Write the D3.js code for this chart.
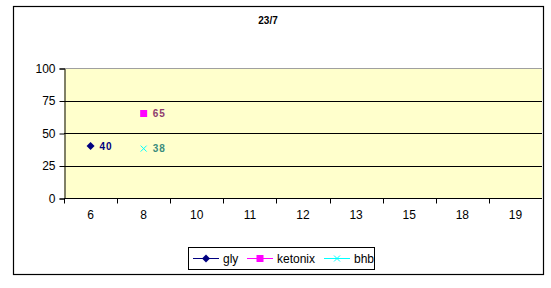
<!DOCTYPE html>
<html>
<head>
<meta charset="utf-8">
<script src="https://cdn.jsdelivr.net/npm/d3@7"></script>
<style>
  body { margin: 0; background: #fff; }
  svg { display: block; font-family: "Liberation Sans", Arial, sans-serif; }
</style>
</head>
<body>
<svg id="chart"></svg>
<script>
// chart data
const title = "23/7"
const categories = ["6", "8", "10", "11", "12", "13", "15", "18", "19"]
const gly = [40, null, null, null, null, null, null, null, null]
const ketonix = [null, 65, null, null, null, null, null, null, null]
const bhb = [null, 38, null, null, null, null, null, null, null]
const yTicks = [0, 25, 50, 75, 100]

// marker shapes, drawn around 0,0
var markers = {
    diamond: "M0,-4L4,0L0,4L-4,0Z",
    square: "M-3.5,-3.5H3.5V3.5H-3.5Z",
    cross: "M-3,-3L3,3M-3,3L3,-3"
}

const series = [
    {name: "gly", values: gly, color: "#000080", label: "#000080", marker: "diamond"},
    {name: "ketonix", values: ketonix, color: "#ff00ff", label: "#8e3a6e", marker: "square"},
    {name: "bhb", values: bhb, color: "#00ffff", label: "#3a8c7c", marker: "cross"}
]

var W = 551, H = 288
var plot = {left: 64, right: 542, top: 68, bottom: 198}

var svg = d3.select("#chart")
    .attr("width", W)
    .attr("height", H)

// outer chart border
svg.append("rect")
    .attr("x", 13.5).attr("y", 6.5)
    .attr("width", 530).attr("height", 268)
    .attr("fill", "#fff")
    .attr("stroke", "#000")
    .attr("stroke-width", 1.2)

svg.append("text")
    .attr("x", 268).attr("y", 24)
    .attr("text-anchor", "middle")
    .attr("font-size", 10)
    .attr("font-weight", "bold")
    .text(title)

var x = d3.scaleBand()
    .domain(categories)
    .range([plot.left, plot.right])

var y = d3.scaleLinear()
    .domain([0, 100])
    .range([plot.bottom, plot.top])

// plot area
svg.append("rect")
    .attr("x", plot.left).attr("y", plot.top)
    .attr("width", plot.right - plot.left)
    .attr("height", plot.bottom - plot.top)
    .attr("fill", "#ffffcc")

svg.append("line")
    .attr("x1", plot.left).attr("x2", plot.right)
    .attr("y1", plot.top + 0.5).attr("y2", plot.top + 0.5)
    .attr("stroke", "#a0a0a0")

// gridlines
svg.append("g")
    .selectAll("line")
    .data(yTicks.filter(d => d > 0 && d < 100))
    .enter().append("line")
    .attr("x1", plot.left).attr("x2", plot.right)
    .attr("y1", d => Math.round(y(d)) + 0.5)
    .attr("y2", d => Math.round(y(d)) + 0.5)
    .attr("stroke", "#000")

// y axis
var yAxis = svg.append("g")
    .attr("transform", "translate(" + (plot.left + 0.5) + ",0.5)")
    .call(d3.axisLeft(y).tickValues(yTicks).tickSize(5).tickPadding(4))
yAxis.selectAll("path, line").attr("stroke", "#000")
yAxis.selectAll("text")
    .attr("font-family", "Liberation Sans, Arial, sans-serif")
    .attr("font-size", 12)
    .attr("fill", "#000")

// x axis with ticks between categories
var xAxis = svg.append("g")
    .attr("transform", "translate(0," + (plot.bottom + 0.5) + ")")
xAxis.append("line")
    .attr("x1", plot.left).attr("x2", plot.right)
    .attr("stroke", "#000")
xAxis.selectAll("line.tick")
    .data(categories.map((c, i) => i))
    .enter().append("line")
    .attr("class", "tick")
    .attr("x1", i => Math.round(plot.left + i * x.step()) + 0.5)
    .attr("x2", i => Math.round(plot.left + i * x.step()) + 0.5)
    .attr("y1", 0).attr("y2", 5)
    .attr("stroke", "#000")
xAxis.selectAll("text")
    .data(categories)
    .enter().append("text")
    .attr("x", d => x(d) + x.bandwidth() / 2)
    .attr("y", 20)
    .attr("text-anchor", "middle")
    .attr("font-size", 12)
    .text(d => d)

// series
var cx = (d, i) => x(categories[i]) + x.bandwidth() / 2

function drawMarker(sel, s) {
    if (s.marker == "cross") {
        sel.attr("d", markers.cross).attr("stroke", s.color).attr("fill", "none")
    } else {
        sel.attr("d", markers[s.marker]).attr("fill", s.color)
    }
}

series.forEach(s => {
    var pts = s.values.map((v, i) => ({v: v, i: i})).filter(p => p.v != null)

    var line = d3.line()
        .defined(d => d != null)
        .x((d, i) => cx(d, i))
        .y(d => y(d))
    svg.append("path")
        .attr("d", line(s.values))
        .attr("fill", "none")
        .attr("stroke", s.color)

    var g = svg.append("g")
    g.selectAll("path")
        .data(pts)
        .enter().append("path")
        .attr("transform", p => "translate(" + cx(p.v, p.i) + "," + y(p.v) + ")")
        .call(drawMarker, s)

    g.selectAll("text")
        .data(pts)
        .enter().append("text")
        .attr("x", p => cx(p.v, p.i) + 9)
        .attr("y", p => y(p.v) + 3.5)
        .attr("font-size", 10)
        .attr("font-weight", "bold")
        .attr("letter-spacing", 1)
        .attr("fill", s.label)
        .text(p => p.v)
})

// legend
var legend = svg.append("g")
legend.append("rect")
    .attr("x", 188.5).attr("y", 247.5)
    .attr("width", 186).attr("height", 22)
    .attr("fill", "#fff")
    .attr("stroke", "#000")

var legendX = [193, 247, 324]
series.forEach((s, k) => {
    var lx = legendX[k], ly = 258.5
    legend.append("line")
        .attr("x1", lx).attr("x2", lx + 26)
        .attr("y1", ly).attr("y2", ly)
        .attr("stroke", s.color)
    legend.append("path")
        .attr("transform", "translate(" + (lx + 13) + "," + ly + ")")
        .call(drawMarker, s)
    legend.append("text")
        .attr("x", lx + 30)
        .attr("y", ly + 4.5)
        .attr("font-size", 12)
        .text(s.name)
})
</script>
</body>
</html>
